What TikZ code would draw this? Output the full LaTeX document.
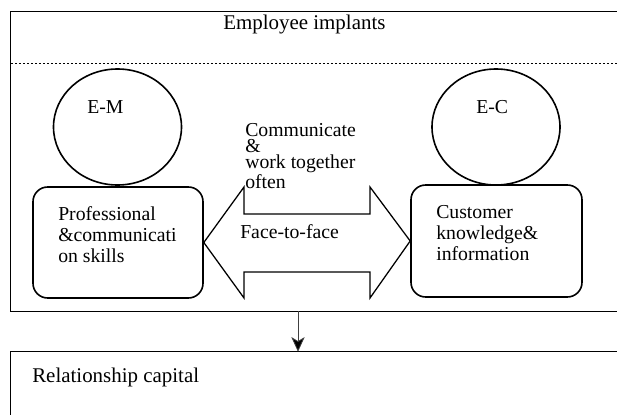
\documentclass[tikz,border=0pt]{standalone}
\usepackage{fontspec}
\setmainfont{Liberation Serif}
\usetikzlibrary{shapes.geometric,arrows.meta}
\begin{document}
\begin{tikzpicture}[x=0.75pt,y=-0.75pt,
  frame/.style={draw=black,line width=0.75pt},
  role/.style={ellipse,draw=black,line width=1.2pt,minimum width=96pt,minimum height=87pt,inner sep=0pt},
  skillbox/.style={draw=black,line width=1.2pt,rounded corners=11pt,inner sep=0pt},
  txt/.style={inner sep=0pt,anchor=base west,align=left,font=\fontsize{14.8}{15.75}\selectfont},
  bigtxt/.style={inner sep=0pt,anchor=base west,font=\fontsize{15.7}{18}\selectfont},
  flow/.style={draw=black,line width=0.95pt,line join=miter,fill=white}]
\useasboundingbox (0,0) rectangle (617,414);
\clip (0,0) rectangle (617,414);

% outer frames: both run on past the right edge of the page
\node[inner sep=0pt,minimum width=471.75pt,minimum height=224.25pt] (emp) at (325.5,161.5) {};
\node[inner sep=0pt,minimum width=471.75pt,minimum height=66pt] (rel) at (325.5,396) {};
\draw[frame] (emp.north east) -- (emp.north west) -- (emp.south west) -- (emp.south east);
\draw[frame] (rel.north east) -- (rel.north west) -- (rel.south west);

% title band
\node[bigtxt] (title) at (223,29) {Employee implants};
\coordinate (dl) at (11,63);
\coordinate (dr) at (640,63);
\draw[line width=0.6pt,dash pattern=on 1.8pt off 1.2pt] (dl) -- (dr);

% roles
\node[role] (em) at (117.5,127) {};
\node[role] (ec) at (496,127) {};
\node[txt] (emt) at (87,113) {E-M};
\node[txt] (ect) at (476,113) {E-C};

% skill boxes (multi-line texts are placed by the baseline of their last line)
\node[skillbox,minimum width=127.5pt,minimum height=83.25pt] (pm) at (118,242.5) {};
\node[skillbox,minimum width=128.25pt,minimum height=84pt] (ck) at (496.5,241) {};
\node[txt] (pmt) at (58,262) {Professional\\\&communicati\\on skills};
\node[txt] (ckt) at (436,260) {Customer\\knowledge\&\\information};

% two-way exchange arrow
\draw[flow] (pm.east) -- (244,187) -- (244,214) -- (370,214) -- (370,187)
  -- (ck.west) -- (370,298) -- (370,272) -- (244,272) -- (244,298) -- cycle;
\node[txt,font=\fontsize{14.8}{12}\selectfont] (comm) at (245,188) {Communicate\\\&\\work together\\often};
\node[txt] (f2f) at (240,238) {Face-to-face};

% result
\node[bigtxt] (relt) at (32,382) {Relationship capital};
\coordinate (down) at (298,311);
\draw[line width=0.6pt,draw=black!75,-{Stealth[length=11pt,width=10pt,inset=3pt,fill=black]}] (down) -- (down |- rel.north);
\end{tikzpicture}
\end{document}
